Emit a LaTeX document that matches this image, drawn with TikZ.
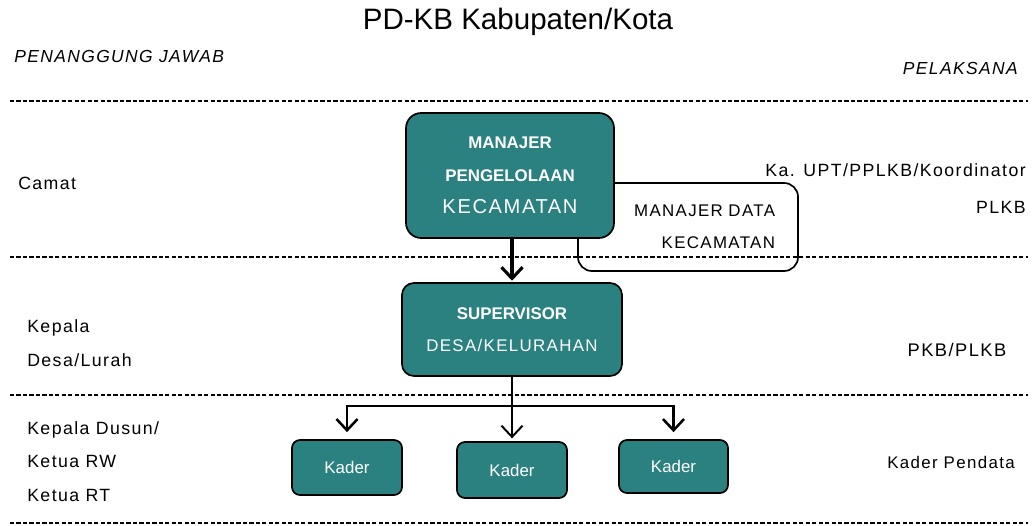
\documentclass[tikz,border=0pt]{standalone}
\usepackage{fontspec}
\setmainfont{Liberation Sans}
\newfontfamily\spacedfont[LetterSpace=8]{Liberation Sans}
\usetikzlibrary{arrows.meta}
\definecolor{tealbox}{RGB}{42,129,128}

\begin{document}
\begin{tikzpicture}[x=0.025cm, y=-0.025cm,
    box/.style={draw=black, line width=1.2pt, fill=tealbox, text=white, align=center,
                font=\fontsize{12}{23}\selectfont},
    lbl/.style={inner sep=0pt, font=\spacedfont\fontsize{12.6}{24}\selectfont},
    sep/.style={line width=1pt, dash pattern=on 3pt off 1.6pt},
    arr/.style={line width=1.8pt, -{Straight Barb[length=8pt,width=15pt]}}]
    \useasboundingbox (0,0) rectangle (1036,525);

    % Title and column heads
    \node[font=\fontsize{21}{25}\selectfont] (title) at (518,22) {PD-KB Kabupaten/Kota};
    \node[lbl, anchor=west, font=\spacedfont\itshape\fontsize{12.4}{24}\selectfont] (pj) at (14,56) {PENANGGUNG JAWAB};
    \node[lbl, anchor=east, font=\spacedfont\itshape\fontsize{12.4}{24}\selectfont] (pl) at (1018,68) {PELAKSANA};

    % Level separators
    \foreach \y in {101,257,395,523} \draw[sep] (10,\y) -- (1028,\y);

    % Boxes
    \node[draw=black, line width=1.2pt, rounded corners=0.35cm, minimum height=2.2cm,
          text width=4.35cm, inner xsep=0.575cm, align=right,
          font=\spacedfont\fontsize{12}{23}\selectfont] (mdata) at (688,227)
          {MANAJER DATA\\KECAMATAN};
    \node[box, rounded corners=0.38cm, minimum width=5.2cm, minimum height=3.125cm] (mgr) at (510,175.5)
          {\textbf{MANAJER}\\\textbf{PENGELOLAAN}\\{\spacedfont\fontsize{14.3}{23}\selectfont KECAMATAN}};
    \node[box, rounded corners=0.3cm, minimum width=5.5cm, minimum height=2.325cm] (sup) at (512,329.5)
          {\textbf{SUPERVISOR}\\{\spacedfont DESA/KELURAHAN}};
    \node[box, rounded corners=0.2cm, minimum width=2.75cm, minimum height=1.375cm] (k1) at (347,467.5) {Kader};
    \node[box, rounded corners=0.2cm, minimum width=2.75cm, minimum height=1.4cm] (k2) at (512,470) {Kader};
    \node[box, rounded corners=0.2cm, minimum width=2.725cm, minimum height=1.325cm] (k3) at (673.5,466.5) {Kader};

    % Connectors
    \draw[arr, line width=2.2pt, shorten >=1pt] (sup.north |- mgr.south) -- (sup.north);
    \coordinate (split) at (512,406);
    \draw[line width=1.8pt] (sup.south) -- (split);
    \draw[arr, line width=1.4pt, shorten >=2pt] (split) -- (k2.north);
    \draw[arr, shorten >=5pt] (split) -| (k1.north);
    \draw[arr, shorten >=5pt] (split) -| (k3.north);

    % Left labels
    \node[lbl, anchor=west] (camat) at (18,183) {Camat};
    \node[lbl, anchor=west, align=left] (kades) at (27,343) {Kepala\\Desa/Lurah};
    \node[lbl, anchor=west, align=left] (kadus) at (27,461.5) {Kepala Dusun/\\Ketua RW\\Ketua RT};

    % Right labels
    \node[lbl, anchor=east, align=right, font=\spacedfont\fontsize{12.6}{26}\selectfont] (upt) at (1026,188.5)
          {Ka. UPT/PPLKB/Koordinator\\PLKB};
    \node[lbl, font=\spacedfont\fontsize{13}{24}\selectfont] (pkb) at (957,350) {PKB/PLKB};
    \node[lbl, font=\spacedfont\fontsize{12}{24}\selectfont] (kp) at (951,462) {Kader Pendata};
\end{tikzpicture}
\end{document}
